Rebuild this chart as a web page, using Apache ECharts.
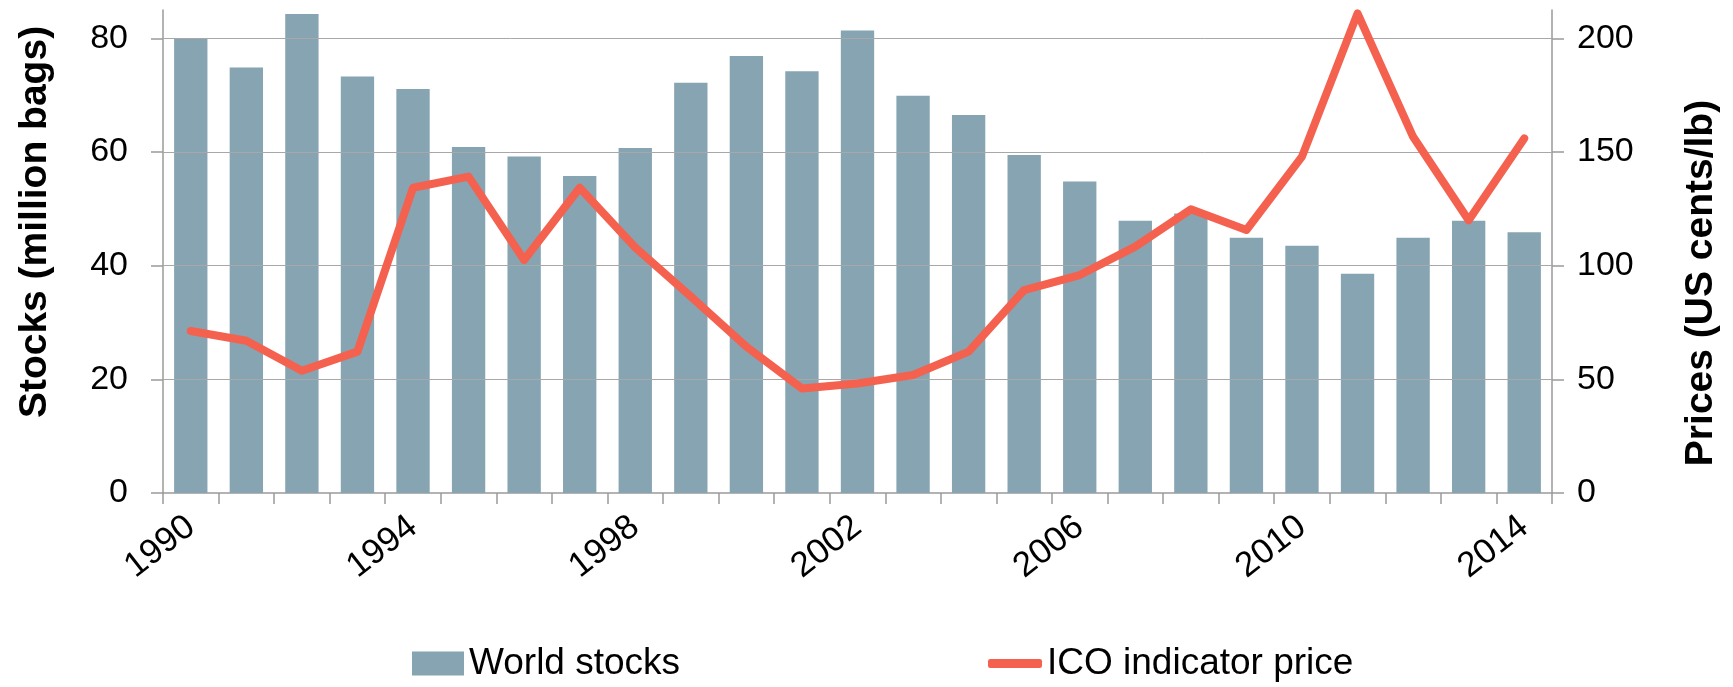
<!DOCTYPE html>
<html>
<head>
<meta charset="utf-8">
<script src="https://cdn.jsdelivr.net/npm/echarts@6/dist/echarts.min.js"></script>
<style>
html,body{margin:0;padding:0;background:#fff;}
#chart{width:1733px;height:687px;}
</style>
</head>
<body>
<div id="chart"></div>
<script>
const years = ['1990','1991','1992','1993','1994','1995','1996','1997','1998','1999','2000','2001','2002','2003','2004','2005','2006','2007','2008','2009','2010','2011','2012','2013','2014'];
const worldStocks = [79.9, 74.9, 84.3, 73.3, 71.1, 60.9, 59.2, 55.8, 60.7, 72.2, 76.9, 74.2, 81.4, 69.9, 66.5, 59.5, 54.8, 47.9, 49.2, 44.9, 43.5, 38.6, 44.9, 47.9, 45.9];
const icoPrice = [71.3, 67.0, 53.8, 62.2, 134.3, 139.2, 102.5, 134.3, 108.0, 86.4, 64.4, 46.0, 48.2, 51.9, 62.2, 89.3, 95.9, 108.4, 124.8, 115.7, 148.0, 211.0, 156.7, 120.0, 156.0];
const leftTicks = [0, 20, 40, 60, 80];
const rightTicks = [0, 50, 100, 150, 200];
const gridLevels = [20, 40, 60, 80];

const FONT = 'Liberation Sans, Arial, sans-serif';
const chart = echarts.init(document.getElementById('chart'), null, {renderer: 'canvas'});
const option = {
  backgroundColor: '#ffffff',
  animation: false,
  grid: {left: 163, right: 181, top: 10, bottom: 194, containLabel: false},
  legend: [
    {data: [{name: 'World stocks', icon: 'rect'}], left: 407, top: 640, itemWidth: 52, itemHeight: 24,
     textStyle: {fontFamily: FONT, fontSize: 37, color: '#000'}, selectedMode: false},
    {data: [{name: 'ICO indicator price', icon: 'roundRect'}], left: 983, top: 640, itemWidth: 54, itemHeight: 9,
     itemStyle: {color: '#f4624f'},
     textStyle: {fontFamily: FONT, fontSize: 37, color: '#000'}, selectedMode: false}
  ],
  xAxis: {
    type: 'category', data: years, boundaryGap: true,
    axisLine: {show: true, lineStyle: {color: '#9a9a9a', width: 1.5}},
    axisTick: {show: true, interval: 0, length: 11, lineStyle: {color: '#9a9a9a', width: 1.5}},
    axisLabel: {interval: 3, rotate: 38, margin: 30, fontFamily: FONT, fontSize: 35, color: '#000'},
    splitLine: {show: false}
  },
  yAxis: [
    {type: 'value', min: 0, max: 85, position: 'left',
     axisLine: {show: true, lineStyle: {color: '#9a9a9a', width: 1.5}},
     axisTick: {show: true, length: 12, customValues: leftTicks, lineStyle: {color: '#9a9a9a', width: 1.5}},
     axisLabel: {customValues: leftTicks, margin: 35, fontFamily: FONT, fontSize: 34, color: '#000'},
     splitLine: {show: false}},
    {type: 'value', min: 0, max: 212.5, position: 'right',
     axisLine: {show: true, lineStyle: {color: '#9a9a9a', width: 1.5}},
     axisTick: {show: true, length: 12, customValues: rightTicks, lineStyle: {color: '#9a9a9a', width: 1.5}},
     axisLabel: {customValues: rightTicks, margin: 25, fontFamily: FONT, fontSize: 34, color: '#000'},
     splitLine: {show: false}}
  ],
  graphic: [
    {type: 'text', x: 35, y: 222, rotation: Math.PI / 2,
     style: {text: 'Stocks (million bags)', fontFamily: FONT, fontWeight: 'bold', fontSize: 39, fill: '#000', align: 'center', verticalAlign: 'middle'}},
    {type: 'text', x: 1701, y: 283, rotation: Math.PI / 2,
     style: {text: 'Prices (US cents/lb)', fontFamily: FONT, fontWeight: 'bold', fontSize: 39, fill: '#000', align: 'center', verticalAlign: 'middle'}}
  ],
  series: [
    {name: 'World stocks', type: 'bar', yAxisIndex: 0, data: worldStocks,
     barCategoryGap: '40%', itemStyle: {color: '#86a4b1'},
     markLine: {silent: true, symbol: ['none', 'none'], label: {show: false},
       lineStyle: {color: '#a8a8a8', width: 1, type: 'solid'},
       emphasis: {disabled: true},
       data: gridLevels.map(v => ({yAxis: v}))}},
    {name: 'ICO indicator price', type: 'line', yAxisIndex: 1, data: icoPrice,
     symbol: 'none', smooth: false, lineStyle: {color: '#f4624f', width: 8, join: 'round', cap: 'round'}, itemStyle: {color: '#f4624f'}, z: 5}
  ]
};
chart.setOption(option);
</script>
</body>
</html>
